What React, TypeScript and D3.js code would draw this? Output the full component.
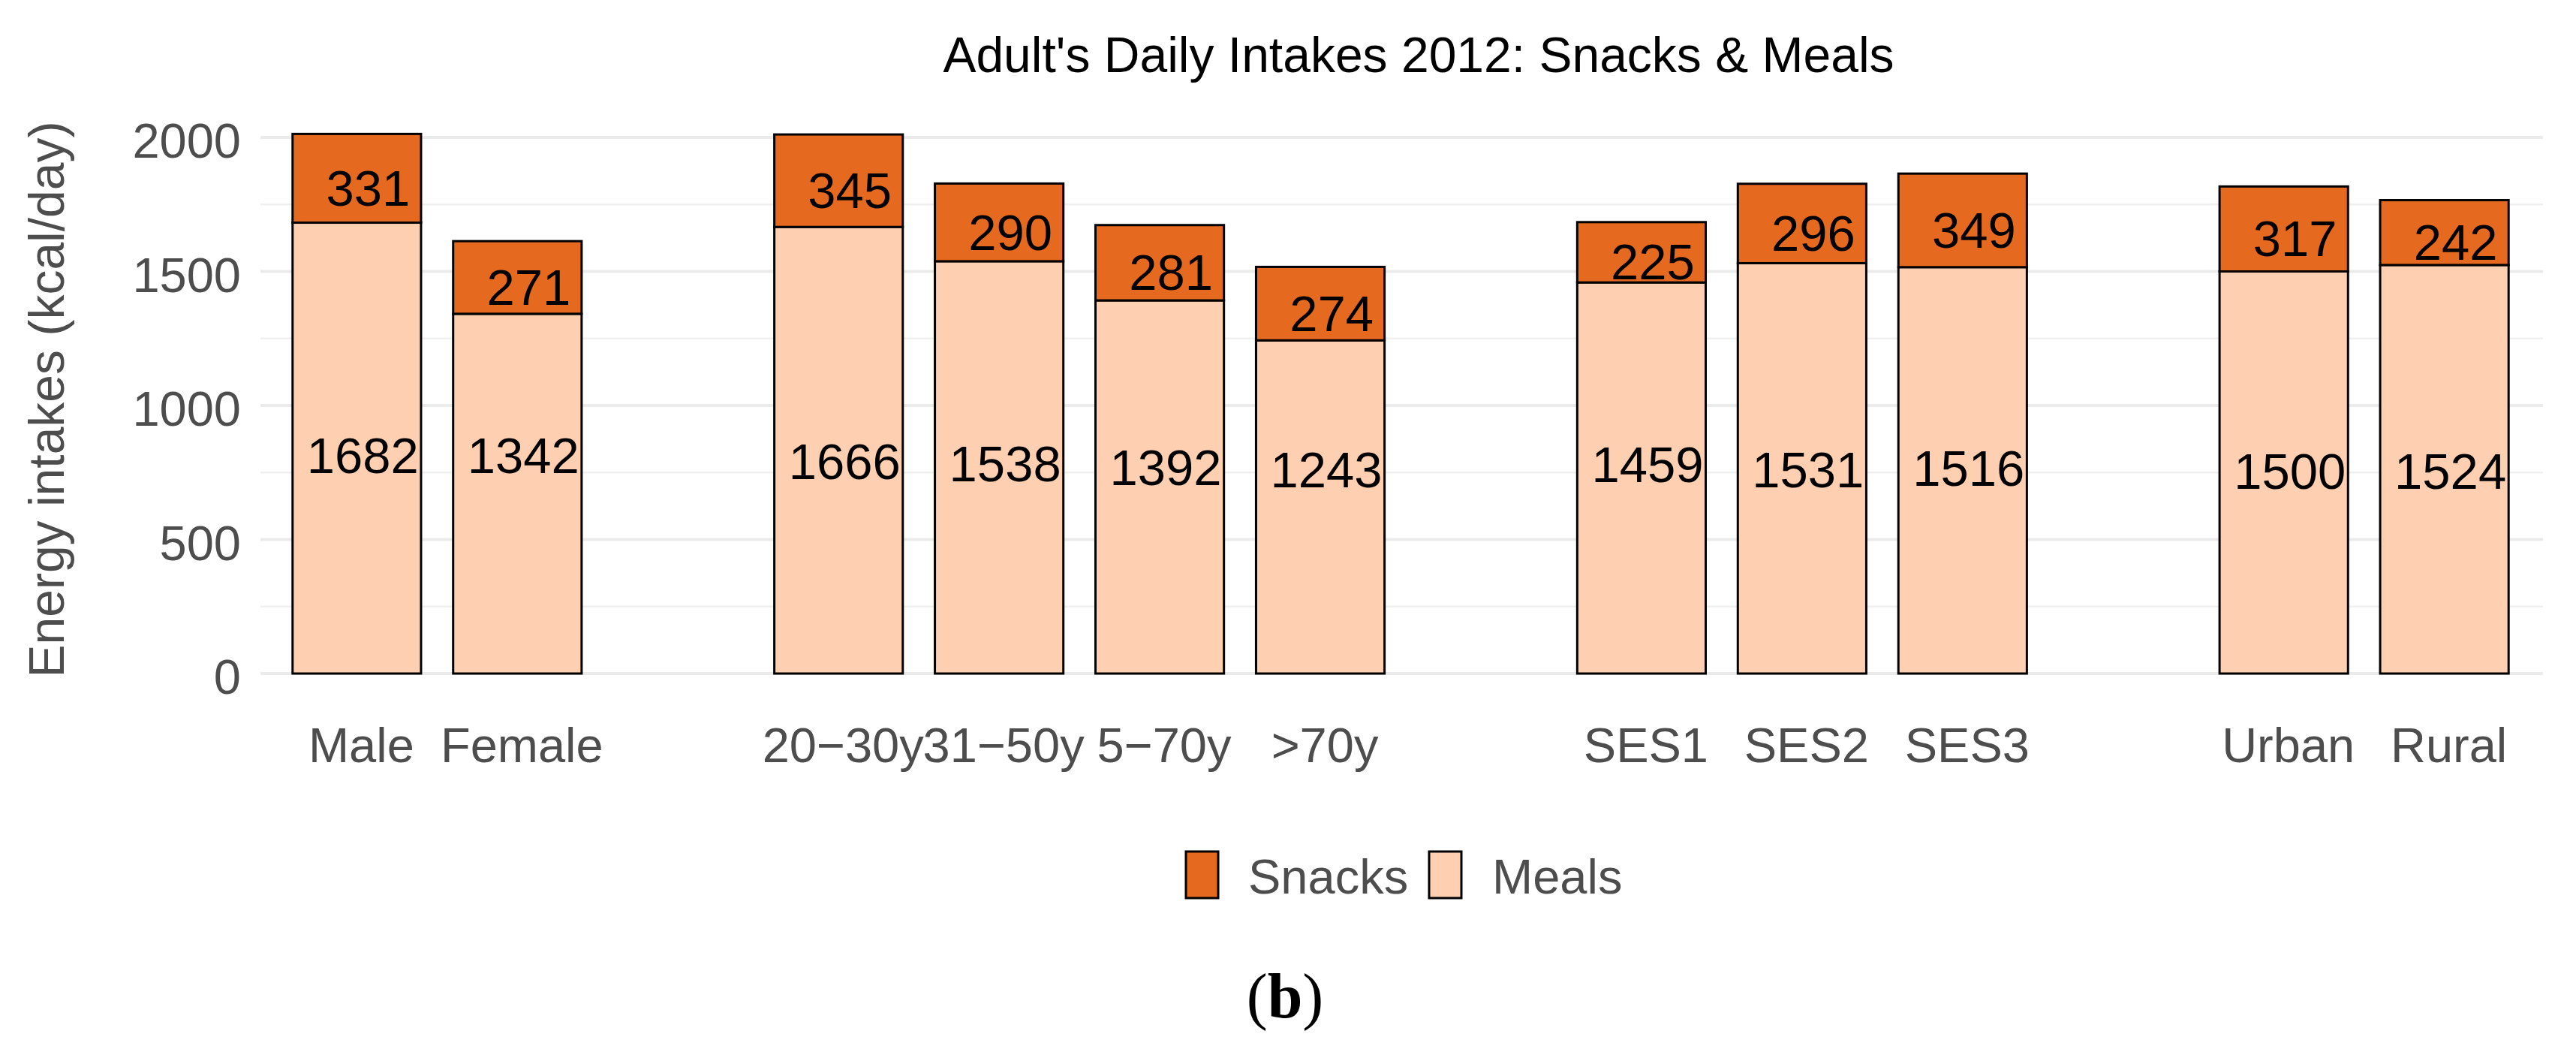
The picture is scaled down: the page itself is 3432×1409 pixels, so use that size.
import React from "react";
import * as d3 from "d3";

// ---- data ----
const categories = ["Male", "Female", "20−30y", "31−50y", "5−70y", ">70y", "SES1", "SES2", "SES3", "Urban", "Rural"];
const groups = [0, 0, 1, 1, 1, 1, 2, 2, 2, 3, 3];
const meals = [1682, 1342, 1666, 1538, 1392, 1243, 1459, 1531, 1516, 1500, 1524];
const snacks = [331, 271, 345, 290, 281, 274, 225, 296, 349, 317, 242];
// vertical anchor (data units) where the meal labels sit in the picture
const mealLabelAt = [815, 815, 793, 784, 770, 762, 781, 762, 767, 756, 756];
const yTicks = [0, 500, 1000, 1500, 2000];
const yMinor = [250, 750, 1250, 1750];
const seriesNames = ["Snacks", "Meals"];
const title = "Adult's Daily Intakes 2012: Snacks & Meals";
const yTitle = "Energy intakes (kcal/day)";

const W = 3432;
const H = 1409;
const FONT = "'Liberation Sans', Arial, Helvetica, sans-serif";
const SNACK = "#E5691E";
const MEAL = "#FED0B1";
const TXT = "#4D4D4D";

// slots with an empty slot between groups
const slots: string[] = [];
categories.forEach((c, i) => {
  if (i > 0 && groups[i] !== groups[i - 1]) slots.push(`gap${i}`);
  slots.push(c);
});

export default function App() {
  const x = d3.scaleBand<string>().domain(slots).range([347, 3385]).paddingInner(0.2).paddingOuter(0.2);
  const y = d3.scaleLinear().domain([0, 2000]).range([897, 183]);
  const bw = x.bandwidth();
  const labelFs = 67;

  return (
    <svg
      width={W}
      height={H}
      viewBox={`0 0 ${W} ${H}`}
      style={{ position: "absolute", left: 0, top: 0, background: "#fff" }}
      fontFamily={FONT}
    >
      <rect x={0} y={0} width={W} height={H} fill="#fff" />
      {/* grid */}
      {yMinor.map((t) => (
        <line key={`mi${t}`} x1={347} x2={3388} y1={y(t)} y2={y(t)} stroke="#F0F0F0" strokeWidth={2.5} />
      ))}
      {yTicks.map((t) => (
        <line key={`ma${t}`} x1={347} x2={3388} y1={y(t)} y2={y(t)} stroke="#EBEBEB" strokeWidth={4} />
      ))}
      {/* y tick labels */}
      {yTicks.map((t) => (
        <text key={`yt${t}`} x={321} y={y(t) + 27} textAnchor="end" fontSize={65} fill={TXT}>
          {t}
        </text>
      ))}
      {/* y title */}
      <text
        transform={`translate(85, 532) rotate(-90)`}
        textAnchor="middle"
        fontSize={66}
        fill={TXT}
      >
        {yTitle}
      </text>
      {/* title */}
      <text x={1890} y={96} textAnchor="middle" fontSize={66} fill="#000">
        {title}
      </text>
      {/* bars */}
      {categories.map((c, i) => {
        const x0 = x(c)!;
        const m = meals[i];
        const s = snacks[i];
        return (
          <g key={c}>
            <rect x={x0} y={y(m)} width={bw} height={y(0) - y(m)} fill={MEAL} stroke="#000" strokeWidth={3} />
            <rect x={x0} y={y(m + s)} width={bw} height={y(m) - y(m + s)} fill={SNACK} stroke="#000" strokeWidth={3} />
          </g>
        );
      })}
      {/* value labels */}
      {categories.map((c, i) => {
        const cx = x(c)! + bw / 2;
        const m = meals[i];
        const s = snacks[i];
        return (
          <g key={`lab${c}`} fontSize={labelFs} fill="#000" textAnchor="middle">
            <text x={cx + 15} y={y(m + s / 2) + 12.5 + labelFs * 0.358}>
              {s}
            </text>
            <text x={cx + 8} y={y(mealLabelAt[i]) + labelFs * 0.358}>
              {m}
            </text>
          </g>
        );
      })}
      {/* x tick labels */}
      {categories.map((c) => (
        <text key={`xt${c}`} x={x(c)! + bw / 2 + 6} y={1015} textAnchor="middle" fontSize={65} fill={TXT}>
          {c}
        </text>
      ))}
      {/* legend */}
      <g>
        <rect x={1580} y={1134} width={43} height={62} fill={SNACK} stroke="#000" strokeWidth={3} />
        <text x={1663} y={1190} fontSize={65} fill={TXT}>
          {seriesNames[0]}
        </text>
        <rect x={1904} y={1134} width={43} height={62} fill={MEAL} stroke="#000" strokeWidth={3} />
        <text x={1988} y={1190} fontSize={65} fill={TXT}>
          {seriesNames[1]}
        </text>
      </g>
      {/* caption */}
      <text x={1712} y={1355} textAnchor="middle" fontSize={84} fill="#000" fontFamily="'Liberation Serif', 'Times New Roman', serif">
        (<tspan fontWeight="bold">b</tspan>)
      </text>
    </svg>
  );
}
